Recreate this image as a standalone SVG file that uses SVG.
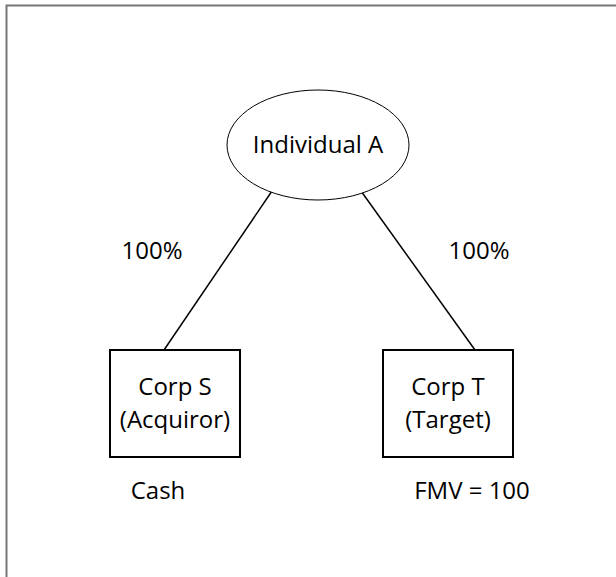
<svg xmlns="http://www.w3.org/2000/svg" width="616" height="577" viewBox="0 0 616 577">
<style>
.t{font-family:"Open Sans","Noto Sans","Liberation Sans",sans-serif;font-size:24px;fill:#000;text-anchor:middle}
.n{fill:#fff;stroke:#000;stroke-width:2}
.c{stroke:#000;stroke-width:1.5;fill:none}
</style>
<rect x="0" y="0" width="616" height="577" fill="#fff"/>
<path d="M6.5,630 V5.5 H700" fill="none" stroke="#777" stroke-width="2"/>
<g id="connectors">
<line class="c" x1="272" y1="191" x2="164" y2="350"/>
<line class="c" x1="361" y1="191" x2="475" y2="350"/>
</g>
<g id="individual-a">
<ellipse cx="318" cy="145" rx="91" ry="55" fill="#fff" stroke="#000" stroke-width="1"/>
<text class="t" x="318" y="153">Individual A</text>
</g>
<g id="corp-s">
<rect class="n" x="110" y="350" width="130" height="107"/>
<text class="t" x="175" y="395">Corp S</text>
<text class="t" x="175" y="428">(Acquiror)</text>
</g>
<g id="corp-t">
<rect class="n" x="383" y="350" width="130" height="107"/>
<text class="t" x="448" y="395">Corp T</text>
<text class="t" x="448" y="428">(Target)</text>
</g>
<g id="labels">
<text class="t" x="152" y="259">100%</text>
<text class="t" x="479" y="259">100%</text>
<text class="t" x="158" y="499">Cash</text>
<text class="t" x="472" y="499">FMV = 100</text>
</g>
</svg>
